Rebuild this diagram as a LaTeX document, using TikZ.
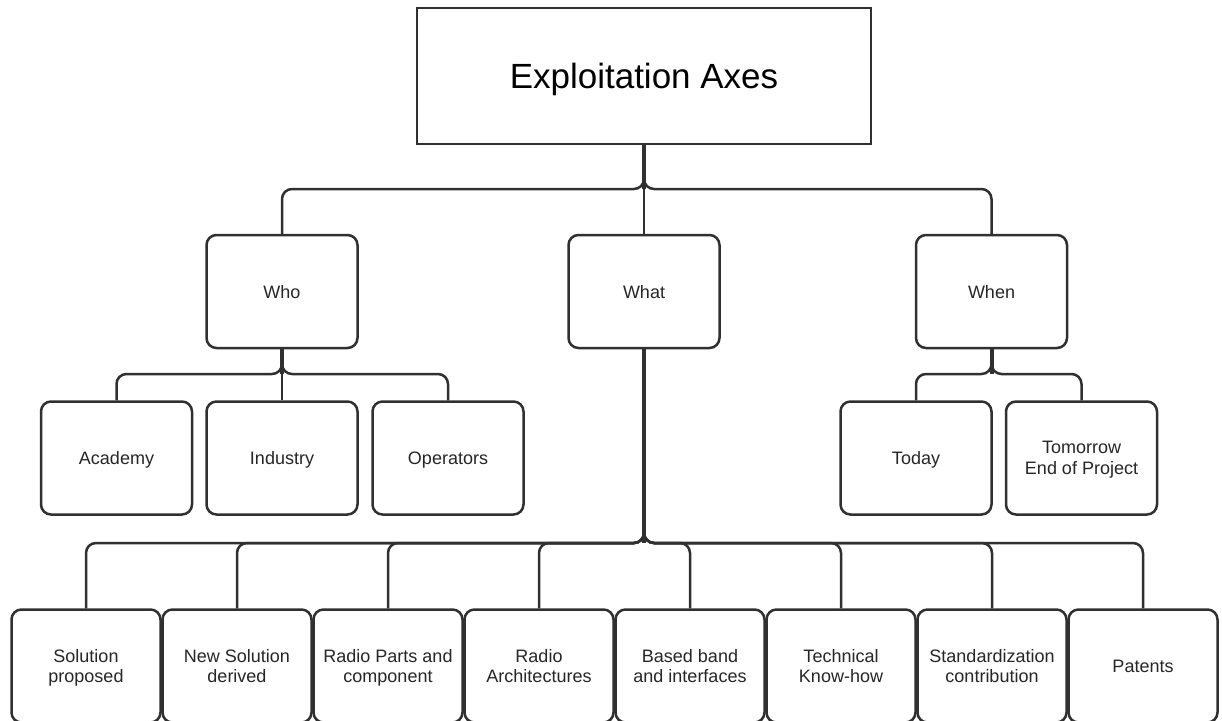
\documentclass[tikz,border=0pt]{standalone}
\usepackage{fontspec}
\setmainfont{Liberation Sans}
\usetikzlibrary{calc}
\definecolor{ln}{HTML}{303030}
\definecolor{tx}{HTML}{262626}
\begin{document}
\begin{tikzpicture}[x=1pt,y=-1pt,
  box/.style={draw=ln, line width=2.5pt, rounded corners=10pt, minimum width=151pt, minimum height=113pt, inner sep=0pt, align=center, text depth=0pt, font=\fontsize{18}{20.5}\selectfont, text=tx},
  bbox/.style={box, minimum width=149pt},
  topbox/.style={draw=ln, line width=2.5pt, minimum width=454pt, minimum height=136pt, inner sep=0pt, text depth=0pt, font=\fontsize{35}{42}\selectfont, text=black},
  conn/.style={draw=ln, line width=2.5pt, rounded corners=10pt},
  trunk/.style={draw=ln, line width=4pt}]
\useasboundingbox (0,0) rectangle (1222,720);
\clip (0,0) rectangle (1222,720);
\fill[white] (0,0) rectangle (1222,720);
% nodes
\node[topbox] (root) at (644,76) {Exploitation Axes};
\node[box] (who) at (282,291.5) {Who};
\node[box] (what) at (644,291.5) {What};
\node[box] (when) at (991.5,291.5) {When};
\node[box] (academy) at (116.5,458) {Academy};
\node[box] (industry) at (282,458) {Industry};
\node[box] (operators) at (448,458) {Operators};
\node[box] (today) at (916,458) {Today};
\node[box] (tomorrow) at (1081.5,458) {Tomorrow\\End of Project};
\node[bbox] (c1) at (86,666) {Solution\\proposed};
\node[bbox] (c2) at (237,666) {New Solution\\derived};
\node[bbox] (c3) at (388,666) {Radio Parts and\\component};
\node[bbox] (c4) at (539,666) {Radio\\Architectures};
\node[bbox] (c5) at (690,666) {Based band\\and interfaces};
\node[bbox] (c6) at (841,666) {Technical\\Know-how};
\node[bbox] (c7) at (992,666) {Standardization\\contribution};
\node[bbox] (c8) at (1143,666) {Patents};
% junctions
\coordinate (j0) at (644,189);
\coordinate (j1) at (282,374);
\coordinate (j2) at (991.5,374);
\coordinate (j3) at (644,543);
% root connectors
\draw[trunk] (root.south) -- (j0);
\draw[conn] (root.south) -- (j0) -| (who.north);
\draw[conn] (root.south) -- (j0) -| (when.north);
\draw[conn] (root.south) -- (what.north);
% who
\draw[trunk] (who.south) -- (j1);
\draw[conn] (who.south) -- (j1) -| (academy.north);
\draw[conn] (who.south) -- (j1) -| (operators.north);
\draw[conn] (who.south) -- (industry.north);
% when
\draw[trunk] (when.south) -- (j2);
\draw[conn] (when.south) -- (j2) -| (today.north);
\draw[conn] (when.south) -- (j2) -| (tomorrow.north);
% what
\draw[trunk] (what.south) -- (j3);
\foreach \c in {c1,c2,c3,c4,c5,c6,c7,c8}{
  \draw[conn] (what.south) -- (j3) -| (\c.north);
}
\end{tikzpicture}
\end{document}
